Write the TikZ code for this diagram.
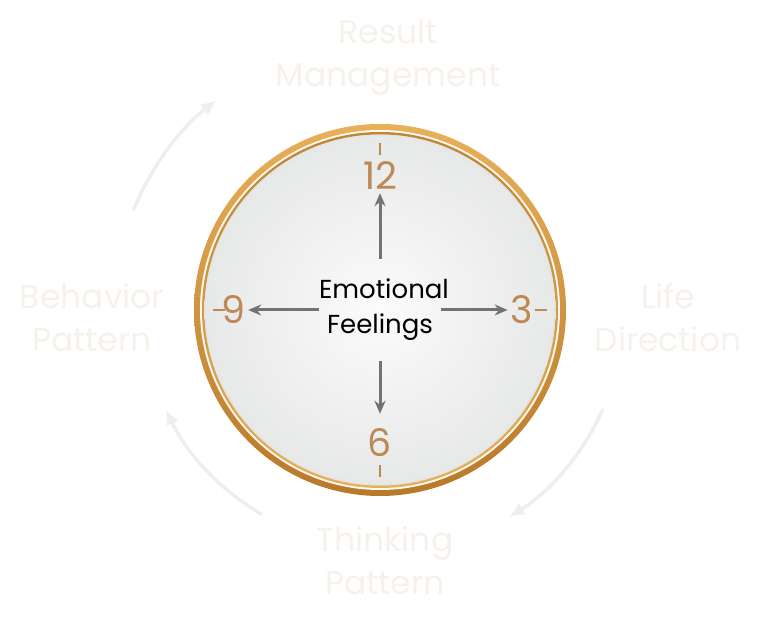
\documentclass[tikz,border=0pt]{standalone}
\usepackage{fontspec}
\setmainfont{Poppins}
\usepackage{xcolor}
\usetikzlibrary{arrows.meta,calc}
\definecolor{goldlight}{HTML}{E8B058}
\definecolor{golddark}{HTML}{B8792A}
\definecolor{numtan}{HTML}{BC8A57}
\definecolor{facegrey}{HTML}{E7E8E8}
\definecolor{labelpale}{HTML}{F6F1EB}
\definecolor{cyclegrey}{HTML}{EEEEEE}
\tikzset{
    clock-number/.style = {text=numtan, font=\fontsize{38}{38}\selectfont, inner sep=3pt},
    outer-label/.style = {text=labelpale, align=center, font=\fontsize{33}{43}\selectfont},
    hand-arrow/.style = {draw=gray!90!black, line width=3pt, -{Stealth[length=13pt,width=11pt]}},
    cycle-arrow/.style = {draw=cyclegrey, line width=3.5pt, -{Latex[length=15pt,width=14pt]}},
    tick/.style = {draw=numtan, line width=1.3pt},
}

\begin{document}
\begin{tikzpicture}[x=1pt,y=1pt]
\useasboundingbox (0,0) rectangle (768,629);
\coordinate (C) at (380,319);

% ring and face
\shade[top color=goldlight, bottom color=golddark] (C) circle (186);
\fill[white!92!goldlight] (C) circle (180);
\shade[top color=golddark!80!goldlight, bottom color=goldlight] (C) circle (178);
\shade[inner color=white!97!gray, outer color=facegrey] (C) circle (175.5);
\draw[cyan!10!gray!25, line width=0.8pt] (C) circle (175);

% ticks
\foreach \a in {0,90,180,270}
    \draw[tick] ($(C)+(\a:155)$) -- ($(C)+(\a:167)$);

\node[font=\fontsize{26}{35}\selectfont, align=center, text width=122pt, minimum height=102pt, inner sep=0pt] (emo) at (C) {Emotional\\Feelings};
\node[clock-number] (n12) at ($(C)+(90:134)$) {12};
\node[clock-number] (n3) at ($(C)+(0:142)$) {3};
\node[clock-number] (n6) at ($(C)+(270:133)$) {6};
\node[clock-number] (n9) at ($(C)+(180:147)$) {9};

\draw[hand-arrow] (emo.north) -- (n12);
\draw[hand-arrow] (emo.east) -- (n3);
\draw[hand-arrow, shorten >=12pt] (emo.south) -- (n6);
\draw[hand-arrow] (emo.west) -- (n9);

% outside labels
\node[outer-label] (result) at (388,572) {Result\\Management};
\node[outer-label] (life) at (668,311) {Life\\Direction};
\node[outer-label] (thinking) at (385,68) {Thinking\\Pattern};
\node[outer-label] (behavior) at (92,311) {Behavior\\Pattern};

% cycle arrows
\coordinate (tl) at ($(C)+(158:266)$);
\coordinate (bl) at ($(C)+(240:236)$);
\coordinate (br) at ($(C)+(-24:244)$);
\draw[cycle-arrow] (tl) arc[start angle=158, end angle=128, radius=266];
\draw[cycle-arrow] (bl) arc[start angle=240, end angle=205, radius=236];
\draw[cycle-arrow] (br) arc[start angle=-24, end angle=-58, radius=244];
\end{tikzpicture}
\end{document}
